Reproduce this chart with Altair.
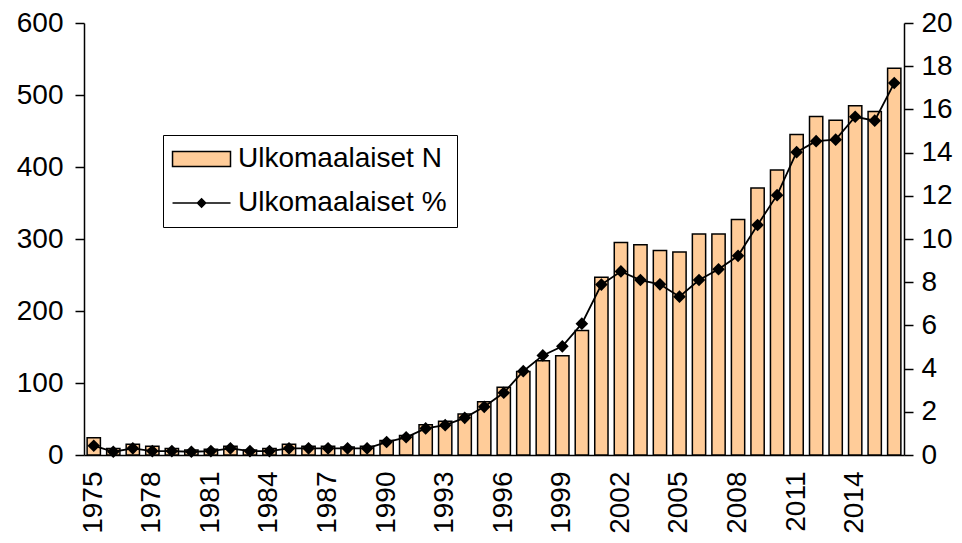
import altair as alt
import pandas as pd

years = list(range(1975, 2017))
foreign_n = [24, 9, 15, 12, 9, 7, 8, 12, 7, 9, 15, 12, 12, 11, 12,
             20, 27, 42, 47, 57, 74, 94, 116, 131, 138, 173, 247,
             295, 292, 284, 282, 307, 307, 327, 371, 396, 445, 470,
             465, 485, 477, 537]
foreign_pct = [0.43, 0.15, 0.31, 0.18, 0.18, 0.15, 0.18, 0.31, 0.18, 0.18,
               0.31, 0.31, 0.31, 0.31, 0.31, 0.60, 0.82, 1.23, 1.38, 1.72,
               2.23, 2.88, 3.88, 4.61, 5.03, 6.08, 7.89, 8.50, 8.10, 7.90,
               7.33, 8.10, 8.60, 9.22, 10.65, 12.03, 14.02, 14.53, 14.60,
               15.66, 15.48, 17.22]
x_label_years = list(range(1975, 2017, 3))
left_ticks = [0, 100, 200, 300, 400, 500, 600]
right_ticks = [0, 2, 4, 6, 8, 10, 12, 14, 16, 18, 20]
series_names = ["Ulkomaalaiset N", "Ulkomaalaiset %"]

df = pd.DataFrame({
    "year": years,
    "n": foreign_n,
    "pct": foreign_pct,
    "series": series_names[1],
})

FONT = "Liberation Sans"
PEACH = "#FFCC99"

x = alt.X(
    "year:O",
    title=None,
    scale=alt.Scale(paddingInner=0.32, paddingOuter=0.16),
    axis=alt.Axis(
        values=x_label_years, labelAngle=-90, ticks=False, tickSize=0,
        labelPadding=16, domainColor="black", domainWidth=1.5,
        labelFontSize=28, labelColor="black", labelFont=FONT, grid=False,
    ),
)

y_left = alt.Y(
    "n:Q",
    title=None,
    scale=alt.Scale(domain=[0, 600], nice=False),
    axis=alt.Axis(
        orient="left", values=left_ticks, tickSize=9, tickColor="black",
        tickWidth=1.5, domainColor="black", domainWidth=1.5, labelPadding=12,
        labelFontSize=28, labelColor="black", labelFont=FONT, grid=False,
    ),
)

y_right = alt.Y(
    "pct:Q",
    title=None,
    scale=alt.Scale(domain=[0, 20], nice=False),
    axis=alt.Axis(
        orient="right", values=right_ticks, tickSize=9, tickColor="black",
        tickWidth=1.5, domainColor="black", domainWidth=1.5, labelPadding=8,
        labelFontSize=28, labelColor="black", labelFont=FONT, grid=False,
    ),
)

bars = alt.Chart(df).mark_bar(fill=PEACH, stroke="black", strokeWidth=1.5).encode(
    x=x, y=y_left
)

line = alt.Chart(df).mark_line(color="black", strokeWidth=1.8).encode(x=x, y=y_right)
points = alt.Chart(df).mark_point(
    shape="diamond", filled=True, color="black", size=160, opacity=1
).encode(x=x, y=y_right)

# legend symbols: unit = 7.5 px (symbolSize 225)
rect_path = "M-1.93,-1H5.8V1H-1.93Z"
line_path = "M-1.93,0H5.8M1.94,-0.55L2.49,0L1.94,0.55L1.39,0Z"

leg = alt.Legend(
    title=None, orient="none", legendX=79, legendY=112,
    symbolSize=225, symbolStrokeColor="black", symbolStrokeWidth=1.5,
    symbolOpacity=1, labelFontSize=28, labelFont=FONT, labelColor="black",
    labelOffset=37, rowPadding=16, padding=10, strokeColor="black",
    fillColor="white", labelLimit=400,
)

legend_layer = alt.Chart(df).mark_point(filled=True, opacity=0).encode(
    x=x,
    y=y_right,
    fill=alt.Fill("series:N", scale=alt.Scale(domain=series_names, range=[PEACH, "black"]), legend=leg),
    stroke=alt.Stroke("series:N", scale=alt.Scale(domain=series_names, range=["black", "black"]), legend=leg),
    shape=alt.Shape("series:N", scale=alt.Scale(domain=series_names, range=[rect_path, line_path]), legend=leg),
)

right_layer = alt.layer(line, points, legend_layer)

chart = alt.layer(bars, right_layer).resolve_scale(y="independent").properties(
    width=820,
    height=432,
    autosize=alt.AutoSizeParams(type="none"),
    padding={"left": 76, "top": 15, "right": 50, "bottom": 80},
    background="white",
).configure_view(stroke=None)

chart.save("out.html", embed_options={"renderer": "svg", "actions": False})
